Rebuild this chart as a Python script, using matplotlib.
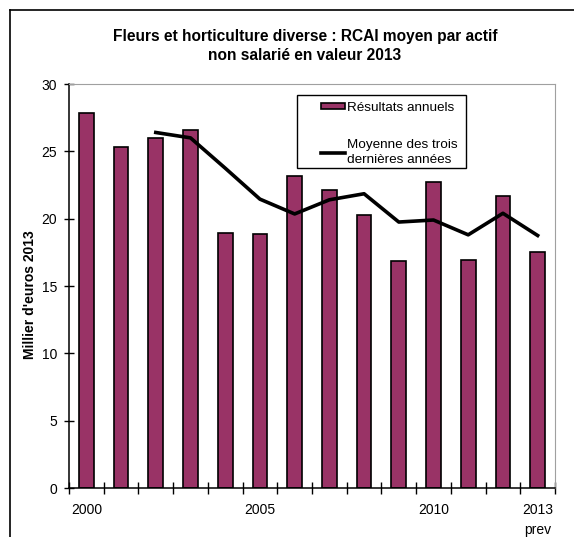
import matplotlib
matplotlib.use("Agg")
import matplotlib.pyplot as plt
from matplotlib.lines import Line2D
from matplotlib.patches import Rectangle

plt.rcParams['font.family'] = ['Liberation Sans', 'DejaVu Sans']

# données
annees = [2000, 2001, 2002, 2003, 2004, 2005, 2006, 2007, 2008, 2009, 2010, 2011, 2012, 2013]
resultats = [27.85, 25.35, 26.0, 26.6, 18.9, 18.85, 23.15, 22.15, 20.25, 16.85, 22.7, 16.95, 21.65, 17.55]
moyenne_annees = [2002, 2003, 2004, 2005, 2006, 2007, 2008, 2009, 2010, 2011, 2012, 2013]
moyenne = [26.4, 26.0, 23.75, 21.45, 20.35, 21.4, 21.85, 19.75, 19.9, 18.8, 20.4, 18.75]
etiquettes_pos = [2000, 2005, 2010, 2013]
etiquettes = ["2000", "2005", "2010", "2013\nprev"]

W, H = 574, 537
fig = plt.figure(figsize=(W / 100, H / 100), dpi=100)
ax = fig.add_axes([69 / W, 1 - 488 / H, (555 - 69) / W, (488 - 84) / H])

x = [a - annees[0] for a in annees]
xm = [a - annees[0] for a in moyenne_annees]

barres = ax.bar(x, resultats, width=0.42, color='#993366', edgecolor='black',
                linewidth=1.2, label='Résultats annuels', zorder=2)
ligne, = ax.plot(xm, moyenne, color='black', linewidth=2.6,
                 label='Moyenne des trois\ndernières années', zorder=3)

ax.set_xlim(-0.5, 13.5)
ax.set_ylim(0, 30)
ax.set_yticks([0, 5, 10, 15, 20, 25, 30])
ax.set_xticks([a - annees[0] for a in etiquettes_pos])
ax.set_xticklabels(etiquettes, linespacing=1.5)
ax.set_xticks([i - 0.5 for i in range(15)], minor=True)
ax.tick_params(axis='x', which='major', length=0, pad=11, labelsize=10)
ax.tick_params(axis='x', which='minor', direction='inout', length=8, width=1)
ax.tick_params(axis='y', direction='inout', length=7, width=1, pad=5, labelsize=10)

for s in ['top', 'right']:
    ax.spines[s].set_color('#a0a0a0')
for s in ['left', 'bottom']:
    ax.spines[s].set_color('black')
    ax.spines[s].set_linewidth(1.1)

# cadre de la légende
ax.add_patch(Rectangle((297 / W, 1 - 168 / H), (466 - 297) / W, (168 - 95) / H,
                       transform=fig.transFigure, facecolor='white',
                       edgecolor='black', linewidth=1, clip_on=False, zorder=4))
leg = ax.legend(handles=[barres, ligne], loc='upper left', frameon=False,
                bbox_to_anchor=(319 / W, 1 - 100 / H), bbox_transform=fig.transFigure,
                borderaxespad=0, borderpad=0.15, fontsize=9.7, handlelength=1.8,
                handleheight=0.35, handletextpad=0.15, labelspacing=1.85)
leg.set_zorder(5)
for t in leg.get_texts():
    t.set_linespacing(1.3)

fig.text(305 / W, 1 - 36 / H, "Fleurs et horticulture diverse : RCAI moyen par actif",
         ha='center', va='center', fontsize=11.2, fontweight='bold')
fig.text(305 / W, 1 - 56 / H, "non salarié en valeur 2013",
         ha='center', va='center', fontsize=11.2, fontweight='bold')
fig.text(30 / W, 1 - 295 / H, "Millier d'euros 2013", rotation=90,
         ha='center', va='center', fontsize=10, fontweight='bold')

# cadre extérieur
fig.add_artist(Line2D([10 / W, 10 / W], [0, 1 - 10 / H], transform=fig.transFigure,
                      color='black', linewidth=1.2))
fig.add_artist(Line2D([10 / W, 1], [1 - 10 / H, 1 - 10 / H], transform=fig.transFigure,
                      color='black', linewidth=1.2))

fig.savefig("out.png", dpi=100)
